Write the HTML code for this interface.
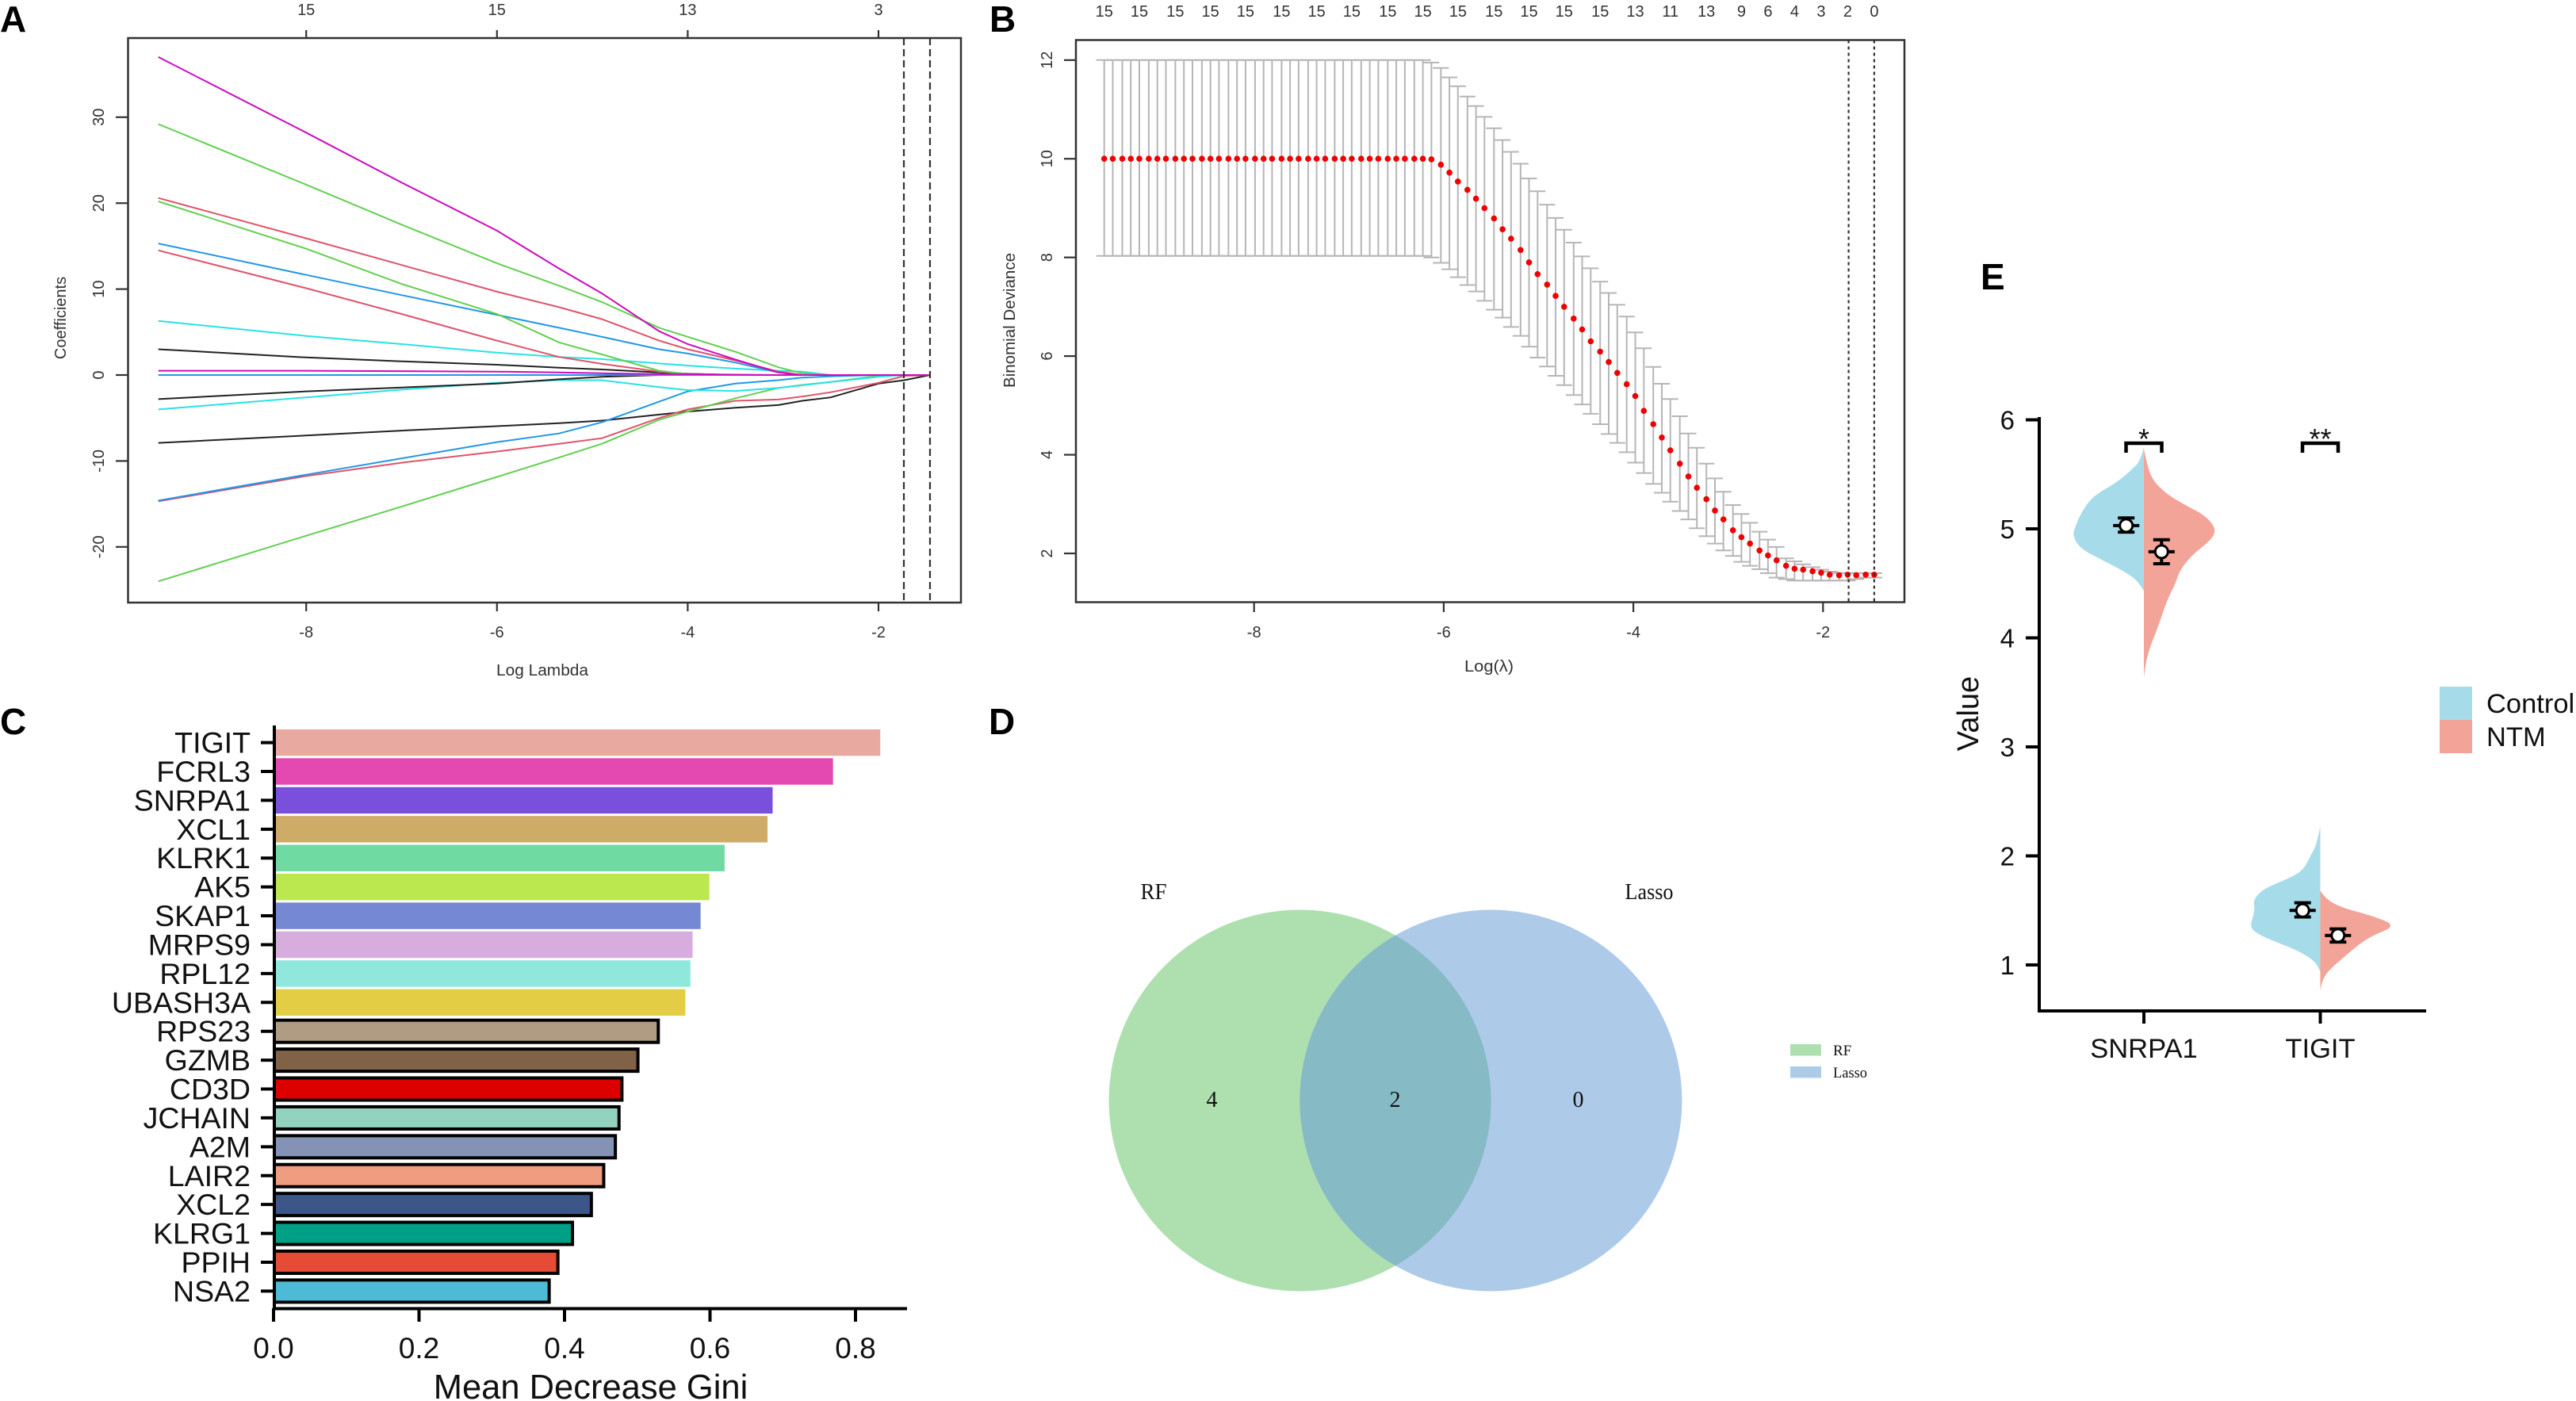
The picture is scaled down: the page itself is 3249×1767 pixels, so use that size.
<!DOCTYPE html>
<html lang="en">
<head>
<meta charset="utf-8">
<title>Multi-panel gene selection figure</title>
<style>
html,body{margin:0;padding:0;background:#fff;width:3249px;height:1767px;overflow:hidden}
svg{display:block;font-family:"Liberation Sans",Arial,sans-serif}
.tk{fill:#333;font-size:20px}
.serif{font-family:"Liberation Serif","Times New Roman",serif;fill:#111}
.panel{font-weight:bold;font-size:46px;fill:#000}
</style>
</head>
<body>
<svg id="fig" xmlns="http://www.w3.org/2000/svg" width="3249" height="1767" viewBox="0 0 3249 1767">
  <rect x="0" y="0" width="3249" height="1767" fill="#fff"/>

  <g id="panelA">
    <text class="panel" x="0" y="40">A</text>
    <rect x="161.5" y="48" width="1050.5" height="712" fill="none" stroke="#333" stroke-width="2.5"/>
    <text class="tk" transform="translate(83,401) rotate(-90)" text-anchor="middle">Coefficients</text>
    <text class="tk" x="684" y="852" text-anchor="middle" textLength="116" lengthAdjust="spacingAndGlyphs">Log Lambda</text>
  </g>

  <g id="panelB">
    <text class="panel" x="1248" y="40">B</text>
    <rect x="1357" y="50.5" width="1045" height="709" fill="none" stroke="#333" stroke-width="2.5"/>
    <text class="tk" transform="translate(1280,404) rotate(-90)" text-anchor="middle" textLength="170" lengthAdjust="spacingAndGlyphs">Binomial Deviance</text>
    <text class="tk" x="1878" y="847" text-anchor="middle" textLength="62" lengthAdjust="spacingAndGlyphs">Log(λ)</text>
  </g>

  <g id="panelC">
    <text class="panel" x="0" y="926">C</text>
    <text x="745" y="1764" text-anchor="middle" font-size="43.5" fill="#111">Mean Decrease Gini</text>
  </g>

  <g id="panelD">
    <text class="panel" x="1247" y="926">D</text>
    <defs>
      <clipPath id="vennClip"><ellipse cx="1639.6" cy="1388" rx="241" ry="240.5"/></clipPath>
    </defs>
    <ellipse cx="1639.6" cy="1388" rx="241" ry="240.5" fill="#ADDFAF"/>
    <ellipse cx="1880.4" cy="1388" rx="241" ry="240.5" fill="#ADCBE9"/>
    <ellipse cx="1880.4" cy="1388" rx="241" ry="240.5" fill="#86BAC4" clip-path="url(#vennClip)"/>
    <text class="serif" x="1455" y="1134" font-size="28" text-anchor="middle" textLength="33" lengthAdjust="spacingAndGlyphs">RF</text>
    <text class="serif" x="2080" y="1134" font-size="28" text-anchor="middle" textLength="61" lengthAdjust="spacingAndGlyphs">Lasso</text>
    <text class="serif" x="1528.5" y="1396" font-size="28" text-anchor="middle">4</text>
    <text class="serif" x="1759.5" y="1396" font-size="28" text-anchor="middle">2</text>
    <text class="serif" x="1990.5" y="1396" font-size="28" text-anchor="middle">0</text>
    <rect x="2258" y="1317" width="39" height="14.5" fill="#ADDFAF"/>
    <rect x="2258" y="1345" width="39" height="14.5" fill="#ADCBE9"/>
    <text class="serif" x="2312" y="1331" font-size="19">RF</text>
    <text class="serif" x="2312" y="1359" font-size="19" textLength="43" lengthAdjust="spacingAndGlyphs">Lasso</text>
  </g>

  <g id="panelE">
    <text class="panel" x="2498" y="365" font-size="47">E</text>
    <text transform="translate(2495,900) rotate(-90)" text-anchor="middle" font-size="38" fill="#111">Value</text>
    <rect x="3077" y="866" width="41" height="42" fill="#A6DCE9"/>
    <rect x="3077" y="908" width="41" height="42" fill="#F2A498"/>
    <text x="3136" y="899" font-size="34.5" fill="#111">Control</text>
    <text x="3136" y="941" font-size="34.5" fill="#111">NTM</text>
  </g>
</svg>

<script>
/* ---------- Panel A data ---------- */
var lassoLambda = [-9.55,-8,-7,-6,-5.35,-4.9,-4.3,-4,-3.5,-3.05,-2.8,-2.5,-2,-1.73,-1.46];
var lassoBlackB  = [-7.9,-7.04,-6.47,-5.95,-5.6,-5.3,-4.6,-4.25,-3.8,-3.5,-3,-2.6,-1,-0.6,0];
var lassoRedLow  = [-14.7,-11.75,-10.2,-8.9,-8,-7.35,-5,-4,-3,-2.85,-2.5,-2,-0.9,-0.1,0];
var lassoGreenLow= [-24,-18.7,-15.3,-11.85,-9.6,-8,-5.2,-4.25,-2.7,-1.5,-1.15,-0.8,-0.1,0,0];
var lassoBlueLow = [-14.6,-11.6,-9.7,-7.8,-6.8,-5.5,-3.1,-1.9,-1,-0.6,-0.3,-0.15,0,0,0];
var lassoCyanLow = [-4,-2.6,-1.7,-0.9,-0.6,-0.6,-1.4,-1.75,-1.85,-1.5,-1.2,-0.8,-0.2,0,0];
var lassoBlackLow= [-2.8,-1.9,-1.45,-1,-0.5,-0.2,0,0,0,0,0,0,0,0,0];
var lassoBlackTop= [3,2.05,1.6,1.2,0.85,0.65,0.3,0.15,0,0,0,0,0,0,0];
var lassoCyanTop = [6.3,4.55,3.6,2.6,2.1,1.85,1.35,1.1,0.75,0.5,0.4,0,0,0,0];
var lassoRedB    = [14.5,10.1,7.1,4,2.1,1.3,0.4,0.15,0,0,0,0,0,0,0];
var lassoBlueTop = [15.3,11.65,9.3,7,5.5,4.45,3,2.5,1.45,0.3,0,0,0,0,0];
var lassoGreenB  = [20.2,14.7,10.6,7.1,3.8,2.4,0.5,0.1,0,0,0,0,0,0,0];
var lassoRedTop  = [20.6,15.9,12.8,9.7,7.9,6.5,4,3,1.7,0.4,0,0,0,0,0];
var lassoGreenTop= [29.2,22.15,17.5,13,10.4,8.5,5.5,4.45,2.7,0.9,0.2,0,0,0,0];
var lassoMagTop  = [37,28.2,22.4,16.8,12.4,9.5,5.1,3.6,1.8,0.3,0,0,0,0,0];
var lassoBlueFlat= [0,0,0,0,0,0,0,0,0,0,0,0,0,0,0];
var lassoMagFlat = [0.5,0.5,0.45,0.4,0.3,0.2,0.1,0.1,0.05,0,0,0,0,0,0];
var lassoSeriesNames = ['black-b','red-low','green-low','blue-low','cyan-low','black-low','black-top','cyan-top','red-b','blue-top','green-b','red-top','green-top','magenta-top','blue-flat','magenta-flat'];
var lassoColors = ['#222','#df536b','#61d04f','#2297e6','#28e2e5','#222','#222','#28e2e5','#df536b','#2297e6','#61d04f','#df536b','#61d04f','#cd0bbc','#2297e6','#cd0bbc'];
var lassoXTicks = [-8,-6,-4,-2];
var lassoTopLabels = ['15','15','13','3'];
var lassoYTicks = [-20,-10,0,10,20,30];
var lassoCutoffs = [-1.734,-1.46];

/* ---------- Panel B data ---------- */
var devLambda = [-9.58,-9.49,-9.39,-9.30,-9.21,-9.11,-9.02,-8.93,-8.83,-8.74,-8.65,-8.55,-8.46,-8.37,-8.27,-8.18,-8.09,-7.99,-7.90,-7.81,-7.71,-7.62,-7.53,-7.43,-7.34,-7.25,-7.15,-7.06,-6.97,-6.87,-6.78,-6.69,-6.59,-6.50,-6.41,-6.31,-6.22,-6.13,-6.03,-5.94,-5.85,-5.75,-5.66,-5.57,-5.47,-5.38,-5.29,-5.19,-5.10,-5.01,-4.91,-4.82,-4.73,-4.63,-4.54,-4.45,-4.35,-4.26,-4.17,-4.07,-3.98,-3.89,-3.79,-3.70,-3.61,-3.51,-3.42,-3.33,-3.23,-3.14,-3.05,-2.95,-2.86,-2.77,-2.67,-2.58,-2.49,-2.39,-2.30,-2.21,-2.11,-2.02,-1.93,-1.83,-1.74,-1.65,-1.55,-1.46];
var devMean = [10,10,10,10,10,10,10,10,10,10,10,10,10,10,10,10,10,10,10,10,10,10,10,10,10,10,10,10,10,10,10,10,10,10,10,10,10,
  9.99,9.88,9.72,9.54,9.37,9.19,9.0,8.79,8.57,8.38,8.15,7.9,7.66,7.45,7.22,7.0,6.76,6.54,6.3,6.09,5.88,5.66,5.43,5.19,4.89,4.62,4.35,4.09,3.82,3.56,3.33,3.1,2.87,2.69,2.47,2.33,2.2,2.06,1.96,1.86,1.75,1.69,1.67,1.64,1.61,1.57,1.56,1.57,1.56,1.57,1.57];
var devUpper = [12,12,12,12,12,12,12,12,12,12,12,12,12,12,12,12,12,12,12,12,12,12,12,12,12,12,12,12,12,12,12,12,12,12,12,12,12,
  11.95,11.84,11.65,11.47,11.26,11.07,10.85,10.62,10.38,10.14,9.9,9.6,9.34,9.07,8.8,8.56,8.3,8.02,7.78,7.51,7.28,7.04,6.8,6.48,6.16,5.78,5.44,5.13,4.78,4.43,4.14,3.82,3.52,3.25,2.98,2.8,2.62,2.44,2.28,2.13,1.9,1.84,1.78,1.72,1.67,1.63,1.6,1.6,1.6,1.6,1.6];
var devLower = [8.03,8.03,8.03,8.03,8.03,8.03,8.03,8.03,8.03,8.03,8.03,8.03,8.03,8.03,8.03,8.03,8.03,8.03,8.03,8.03,8.03,8.03,8.03,8.03,8.03,8.03,8.03,8.03,8.03,8.03,8.03,8.03,8.03,8.03,8.03,8.03,8.03,
  8.0,7.89,7.76,7.6,7.44,7.31,7.12,6.94,6.78,6.59,6.41,6.19,5.97,5.79,5.6,5.41,5.21,5.02,4.83,4.62,4.42,4.24,4.05,3.84,3.63,3.41,3.23,3.05,2.86,2.69,2.51,2.35,2.2,2.06,1.95,1.83,1.75,1.68,1.6,1.51,1.48,1.45,1.45,1.45,1.45,1.45,1.45,1.45,1.48,1.51,1.51];
var devTopIndex = [0,4,8,12,16,20,24,28,32,36,40,44,48,52,56,60,64,68,72,75,78,81,84,87];
var devTopLabels = ['15','15','15','15','15','15','15','15','15','15','15','15','15','15','15','13','11','13','9','6','4','3','2','0'];
var devXTicks = [-8,-6,-4,-2];
var devYTicks = [2,4,6,8,10,12];
var devCutoffs = [-1.73,-1.46];

/* ---------- Panel C data ---------- */
var giniGenes = ['TIGIT','FCRL3','SNRPA1','XCL1','KLRK1','AK5','SKAP1','MRPS9','RPL12','UBASH3A','RPS23','GZMB','CD3D','JCHAIN','A2M','LAIR2','XCL2','KLRG1','PPIH','NSA2'];
var giniValues = [0.833,0.768,0.685,0.678,0.619,0.598,0.586,0.575,0.572,0.565,0.53,0.502,0.48,0.476,0.471,0.455,0.438,0.412,0.392,0.38];
var giniColors = ['#E8A9A0','#E449B1','#7A4FDC','#CFAB68','#6FDBA3','#BBE84E','#7488D4','#D7ADDE','#90E8DC','#E2CD45','#B09C82','#806247','#DD0000','#94D2C0','#8492B5','#F09C80','#3D5688','#00A087','#E64B35','#4DBBD5'];
var giniOutlined = [0,0,0,0,0,0,0,0,0,0,1,1,1,1,1,1,1,1,1,1];
var giniTicks = [0,0.2,0.4,0.6,0.8];

/* ---------- Panel E data ---------- */
var violinGenes = ['SNRPA1','TIGIT'];
var violinYTicks = [1,2,3,4,5,6];
var snrpaControlValue = [5.755,5.63,5.53,5.42,5.32,5.245,5.12,4.99,4.94,4.86,4.79,4.71,4.61,4.53,4.43];
var snrpaControlDens  = [0,0.04,0.19,0.40,0.67,0.79,0.91,0.99,1,0.95,0.82,0.58,0.28,0.10,0];
var snrpaNtmValue = [5.73,5.58,5.45,5.32,5.22,5.12,4.99,4.89,4.76,4.61,4.5,4.35,4.1,3.94,3.79,3.64];
var snrpaNtmDens  = [0,0.05,0.12,0.32,0.58,0.88,1.03,0.94,0.68,0.5,0.45,0.33,0.2,0.1,0.03,0];
var tigitControlValue = [2.27,2.11,2.01,1.86,1.78,1.7,1.6,1.52,1.45,1.34,1.27,1.19,1.14,1.04,0.94];
var tigitControlDens  = [0,0.05,0.13,0.25,0.5,0.8,0.95,0.93,0.95,1,0.85,0.55,0.35,0.08,0];
var tigitNtmValue = [1.68,1.6,1.52,1.45,1.36,1.27,1.19,1.09,0.94,0.84,0.76];
var tigitNtmDens  = [0,0.08,0.33,0.74,1.08,0.74,0.55,0.37,0.1,0.02,0];
var summaryMean  = [5.03,4.79,1.5,1.27];
var summaryUpper = [5.10,4.9,1.57,1.33];
var summaryLower = [4.97,4.68,1.44,1.21];
var summaryNames = ['snrpa1-control','snrpa1-ntm','tigit-control','tigit-ntm'];
var sigLabels = ['*','**'];
var sigValue = [5.8,5.8];

/* ---------- helpers ---------- */
var NS = 'http://www.w3.org/2000/svg';
function mk(parent, tag, attrs, txt) {
  var el = document.createElementNS(NS, tag);
  for (var k in attrs) { el.setAttribute(k, attrs[k]); }
  if (txt !== undefined) { el.textContent = txt; }
  parent.appendChild(el);
  return el;
}
function fmt(v) { return (v < 0 ? '-' : '') + Math.abs(v); }

/* ---------- Panel A ---------- */
var gA = document.getElementById('panelA');
function ax(v) { return 1108 + (v + 2) * 120.3; }
function ay(v) { return 473 - v * 10.84; }

var lassoAll = [lassoBlackB,lassoRedLow,lassoGreenLow,lassoBlueLow,lassoCyanLow,lassoBlackLow,lassoBlackTop,lassoCyanTop,lassoRedB,lassoBlueTop,lassoGreenB,lassoRedTop,lassoGreenTop,lassoMagTop,lassoBlueFlat,lassoMagFlat];
lassoAll.forEach(function (vals, s) {
  var d = vals.map(function (v, i) { return (i ? 'L' : 'M') + ax(lassoLambda[i]).toFixed(1) + ' ' + ay(v).toFixed(1); }).join('');
  var el = mk(gA, 'path', {d: d, fill: 'none', stroke: lassoColors[s], 'stroke-width': 2});
  
  
});
lassoCutoffs.forEach(function (c, i) {
  var el = mk(gA, 'line', {x1: ax(c), x2: ax(c), y1: 48, y2: 760, stroke: '#333', 'stroke-width': 2.2, 'stroke-dasharray': '9 5'});
  
  
});
lassoXTicks.forEach(function (t, i) {
  var x = ax(t);
  var b = mk(gA, 'line', {x1: x, x2: x, y1: 760, y2: 771, stroke: '#333', 'stroke-width': 2.2});
  
  
  var tp = mk(gA, 'line', {x1: x, x2: x, y1: 38, y2: 48, stroke: '#333', 'stroke-width': 2.2});
  
  
  var l = mk(gA, 'text', {x: x, y: 804, 'text-anchor': 'middle', 'class': 'tk'}, fmt(t));
  
  
  var u = mk(gA, 'text', {x: x, y: 19, 'text-anchor': 'middle', 'class': 'tk'}, lassoTopLabels[i]);
  
  
});
lassoYTicks.forEach(function (t) {
  var y = ay(t);
  var m = mk(gA, 'line', {x1: 146, x2: 161.5, y1: y, y2: y, stroke: '#333', 'stroke-width': 2.2});
  
  
  var l = mk(gA, 'text', {transform: 'translate(131,' + y + ') rotate(-90)', 'text-anchor': 'middle', 'class': 'tk'}, fmt(t));
  
  
});

/* ---------- Panel B ---------- */
var gB = document.getElementById('panelB');
function bx(v) { return 2299.3 + (v + 2) * 119.6; }
function by(v) { return 698 - (v - 2) * 62.22; }

devLambda.forEach(function (lam, i) {
  var x = bx(lam);
  var grey = '#b6b6b6';
  var bar = mk(gB, 'path', {
    d: 'M' + x.toFixed(1) + ' ' + by(devUpper[i]).toFixed(1) + 'V' + by(devLower[i]).toFixed(1) +
       'M' + (x - 10).toFixed(1) + ' ' + by(devUpper[i]).toFixed(1) + 'H' + (x + 10).toFixed(1) +
       'M' + (x - 10).toFixed(1) + ' ' + by(devLower[i]).toFixed(1) + 'H' + (x + 10).toFixed(1),
    fill: 'none', stroke: grey, 'stroke-width': 2
  });
  
  
});
devLambda.forEach(function (lam, i) {
  var p = mk(gB, 'circle', {cx: bx(lam).toFixed(1), cy: by(devMean[i]).toFixed(1), r: 3.8, fill: '#f00000'});
  
  
});
devCutoffs.forEach(function (c, i) {
  var el = mk(gB, 'line', {x1: bx(c), x2: bx(c), y1: 50.5, y2: 759.5, stroke: '#333', 'stroke-width': 2.2, 'stroke-dasharray': '4 4'});
  
  
});
devTopIndex.forEach(function (idx, i) {
  var l = mk(gB, 'text', {x: bx(devLambda[idx]), y: 21, 'text-anchor': 'middle', 'class': 'tk'}, devTopLabels[i]);
  
  
});
devXTicks.forEach(function (t) {
  var x = bx(t);
  var m = mk(gB, 'line', {x1: x, x2: x, y1: 759.5, y2: 772, stroke: '#333', 'stroke-width': 2.2});
  
  
  var l = mk(gB, 'text', {x: x, y: 804, 'text-anchor': 'middle', 'class': 'tk'}, fmt(t));
  
  
});
devYTicks.forEach(function (t) {
  var y = by(t);
  var m = mk(gB, 'line', {x1: 1342, x2: 1357, y1: y, y2: y, stroke: '#333', 'stroke-width': 2.2});
  
  
  var l = mk(gB, 'text', {transform: 'translate(1327,' + y + ') rotate(-90)', 'text-anchor': 'middle', 'class': 'tk'}, String(t));
  
  
});

/* ---------- Panel C ---------- */
var gC = document.getElementById('panelC');
function cx(v) { return 346 + v * 917.5; }
function cy(i) { return 936.6 + i * 36.41; }

giniGenes.forEach(function (g, i) {
  var y = cy(i);
  var r;
  if (giniOutlined[i]) {
    r = mk(gC, 'rect', {x: 346, y: y - 14, width: cx(giniValues[i]) - 346 - 2, height: 28, fill: giniColors[i], stroke: '#000', 'stroke-width': 4});
  } else {
    r = mk(gC, 'rect', {x: 346, y: y - 16.7, width: cx(giniValues[i]) - 346, height: 33.4, fill: giniColors[i]});
  }
  
  
  var t = mk(gC, 'line', {x1: 329, x2: 346, y1: y, y2: y, stroke: '#000', 'stroke-width': 4});
  
  
  var l = mk(gC, 'text', {x: 316, y: y + 13, 'text-anchor': 'end', 'font-size': 37.5, fill: '#111'}, g);
  
  
});
giniTicks.forEach(function (v) {
  var x = cx(v) - 1;
  var t = mk(gC, 'line', {x1: x, x2: x, y1: 1650, y2: 1667, stroke: '#000', 'stroke-width': 4});
  
  
  var l = mk(gC, 'text', {x: x, y: 1713, 'text-anchor': 'middle', 'font-size': 37, fill: '#111'}, v.toFixed(1));
  
  
});
var cAxisY = mk(gC, 'line', {x1: 346, x2: 346, y1: 915, y2: 1652, stroke: '#000', 'stroke-width': 4});


var cAxisX = mk(gC, 'line', {x1: 344, x2: 1144, y1: 1650.5, y2: 1650.5, stroke: '#000', 'stroke-width': 4});



/* ---------- Panel E ---------- */
var gE = document.getElementById('panelE');
var eCenters = [2704, 2926.5];
function ey(v) { return 1217 - (v - 1) * 137.5; }
function smoothHalf(cxv, dir, values, dens) {
  var pts = values.map(function (v, i) { return [cxv + dir * dens[i] * 89, ey(v)]; });
  var d = 'M' + pts[0][0].toFixed(1) + ' ' + pts[0][1].toFixed(1);
  for (var i = 1; i < pts.length - 1; i++) {
    var mx = (pts[i][0] + pts[i + 1][0]) / 2, my = (pts[i][1] + pts[i + 1][1]) / 2;
    d += 'Q' + pts[i][0].toFixed(1) + ' ' + pts[i][1].toFixed(1) + ' ' + mx.toFixed(1) + ' ' + my.toFixed(1);
  }
  var last = pts[pts.length - 1];
  d += 'L' + last[0].toFixed(1) + ' ' + last[1].toFixed(1) + 'Z';
  return d;
}
var v1 = mk(gE, 'path', {d: smoothHalf(eCenters[0], -1, snrpaControlValue, snrpaControlDens), fill: '#A6DCE9'});


var v2 = mk(gE, 'path', {d: smoothHalf(eCenters[0], 1, snrpaNtmValue, snrpaNtmDens), fill: '#F2A498'});


var v3 = mk(gE, 'path', {d: smoothHalf(eCenters[1], -1, tigitControlValue, tigitControlDens), fill: '#A6DCE9'});


var v4 = mk(gE, 'path', {d: smoothHalf(eCenters[1], 1, tigitNtmValue, tigitNtmDens), fill: '#F2A498'});



summaryMean.forEach(function (m, i) {
  var base = eCenters[Math.floor(i / 2)];
  var x = base + (i % 2 === 0 ? -22.3 : 22.3);
  var yHi = ey(summaryUpper[i]), yLo = ey(summaryLower[i]), yM = ey(m);
  var w = mk(gE, 'path', {
    d: 'M' + x + ' ' + yHi + 'V' + yLo + 'M' + (x - 10.5) + ' ' + yHi + 'H' + (x + 10.5) + 'M' + (x - 10.5) + ' ' + yLo + 'H' + (x + 10.5) + 'M' + (x - 16.5) + ' ' + yM + 'H' + (x + 16.5),
    fill: 'none', stroke: '#000', 'stroke-width': 4
  });
  
  
  var c = mk(gE, 'circle', {cx: x, cy: yM, r: 8, fill: '#fff', stroke: '#000', 'stroke-width': 3});
  
  
});

violinGenes.forEach(function (g, i) {
  var x = eCenters[i];
  var t = mk(gE, 'line', {x1: x, x2: x, y1: 1275, y2: 1291, stroke: '#000', 'stroke-width': 4});
  
  
  var l = mk(gE, 'text', {x: x, y: 1334, 'text-anchor': 'middle', 'font-size': 34.5, fill: '#111'}, g);
  
  
  var yb = ey(sigValue[i]) + 2;
  var b = mk(gE, 'path', {d: 'M' + (x - 22.5) + ' ' + (yb + 12) + 'V' + yb + 'H' + (x + 22.5) + 'V' + (yb + 12), fill: 'none', stroke: '#000', 'stroke-width': 4.5});
  
  
  var s = mk(gE, 'text', {x: x, y: yb + 7, 'text-anchor': 'middle', 'font-size': 36, fill: '#111'}, sigLabels[i]);
  
  
});
violinYTicks.forEach(function (v) {
  var y = ey(v);
  var t = mk(gE, 'line', {x1: 2555, x2: 2572, y1: y, y2: y, stroke: '#000', 'stroke-width': 4});
  
  
  var l = mk(gE, 'text', {x: 2541, y: y + 12, 'text-anchor': 'end', 'font-size': 33, fill: '#111'}, String(v));
  
  
});
var eAxisY = mk(gE, 'line', {x1: 2572, x2: 2572, y1: 526, y2: 1277, stroke: '#000', 'stroke-width': 4});


var eAxisX = mk(gE, 'line', {x1: 2570, x2: 3060, y1: 1275, y2: 1275, stroke: '#000', 'stroke-width': 4});


</script>
</body>
</html>
